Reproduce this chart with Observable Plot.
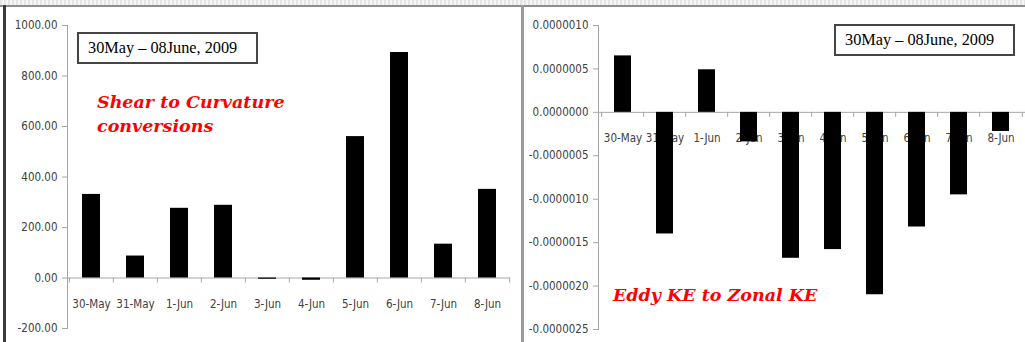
<!DOCTYPE html>
<html>
<head>
<meta charset="utf-8">
<script src="https://cdn.jsdelivr.net/npm/d3@7"></script>
<script src="https://cdn.jsdelivr.net/npm/@observablehq/plot@0.6"></script>
<style>
  html, body { margin: 0; padding: 0; background: #fff; }
  #root { position: relative; width: 1025px; height: 342px; overflow: hidden; background: #fff; }
  .panel { position: absolute; top: 0; }
  .box { position: absolute; box-sizing: border-box; border: 2px solid #454545; background: #fff;
         font-family: "Liberation Serif", serif; font-size: 16.3px; color: #000; padding-left: 9px; line-height: 28px; }
  .note { position: absolute; font-family: "DejaVu Serif", serif; font-style: italic; font-weight: bold;
          color: #ff0000; font-size: 17.5px; line-height: 24px; white-space: nowrap; }
  .deco { position: absolute; }
</style>
</head>
<body>
<div id="root"></div>
<script>
// ---- data ----
const categories = ["30-May", "31-May", "1-Jun", "2-Jun", "3-Jun", "4-Jun", "5-Jun", "6-Jun", "7-Jun", "8-Jun"];
const shearToCurvature = [331, 87, 276, 288, -5, -9, 560, 893, 134, 351];
const eddyToZonal = [6.5e-7, -1.40e-6, 4.9e-7, -3.4e-7, -1.68e-6, -1.58e-6, -2.10e-6, -1.32e-6, -0.95e-6, -0.22e-6];
const leftTicks = [-200, 0, 200, 400, 600, 800, 1000];
const rightTicks = [-2.5e-6, -2.0e-6, -1.5e-6, -1.0e-6, -0.5e-6, 0, 0.5e-6, 1.0e-6];
const periodLabel = "30May – 08June, 2009";
const leftNote = ["Shear to Curvature", "conversions"];
const rightNote = "Eddy KE to Zonal KE";

const axisFont = '"Liberation Sans Narrow", "Arial Narrow", "DejaVu Sans Condensed", sans-serif';
const textColor = "#404040";
const lineColor = "#a6a6a6";

function panel({values, ticks, fmt, domain, width, marginLeft, marginRight, marginTop, marginBottom}) {
  const data = categories.map((c, i) => ({cat: c, v: values[i]}));
  const band = (width - marginLeft - marginRight) / categories.length;
  return Plot.plot({
    width, height: 342, marginLeft, marginRight, marginTop, marginBottom,
    style: {fontFamily: axisFont, fontSize: "11.5px", color: textColor, background: "transparent", overflow: "visible"},
    x: {type: "band", domain: categories, paddingInner: 0.6, paddingOuter: 0.3, axis: null},
    y: {domain, axis: null},
    marks: [
      Plot.frame({anchor: "left", stroke: lineColor}),
      Plot.axisY({ticks, tickFormat: fmt, label: null, tickSize: 5, tickPadding: 5, stroke: lineColor, fill: textColor, fontSize: 11.5}),
      Plot.ruleY([0], {stroke: lineColor}),
      Plot.ruleX(categories, {x: d => d, y1: 0, y2: 0, dx: -band / 2, insetBottom: -5, stroke: lineColor}),
      Plot.ruleX(categories.slice(-1), {x: d => d, y1: 0, y2: 0, dx: band / 2, insetBottom: -5, stroke: lineColor}),
      Plot.text(data, {x: "cat", y: () => 0, text: "cat", dy: 26, fill: textColor, fontSize: 11.5}),
      Plot.barY(data, {x: "cat", y: "v", fill: "#000"})
    ]
  });
}

const root = document.getElementById("root");

function deco(style) {
  const d = document.createElement("div");
  d.className = "deco";
  Object.assign(d.style, style);
  root.appendChild(d);
}

const left = panel({
  values: shearToCurvature, ticks: leftTicks, fmt: d => d.toFixed(2), domain: [-200, 1000],
  width: 520, marginLeft: 67, marginRight: 10, marginTop: 25, marginBottom: 14
});
left.classList.add("panel");
left.style.left = "0px";
root.appendChild(left);

const right = panel({
  values: eddyToZonal, ticks: rightTicks, fmt: d => d.toFixed(7), domain: [-2.5e-6, 1e-6],
  width: 502, marginLeft: 75, marginRight: 0, marginTop: 25, marginBottom: 13
});
right.classList.add("panel");
right.style.left = "523px";
root.appendChild(right);

// frame decorations
deco({left: "0px", top: "0px", width: "1025px", height: "5px", background: "repeating-linear-gradient(90deg, #e4e4e4 0 2px, #f6f6f6 2px 4px)"});
deco({left: "0px", top: "5px", width: "1025px", height: "2px", background: "#8f8f8f"});
deco({left: "3px", top: "5px", width: "3px", height: "337px", background: "#3a3a3a"});
deco({left: "521px", top: "5px", width: "3px", height: "337px", background: "#9a9a9a"});

// annotations
function box(x, y) {
  const b = document.createElement("div");
  b.className = "box";
  Object.assign(b.style, {left: x + "px", top: y + "px", width: "181px", height: "32px"});
  b.textContent = periodLabel;
  root.appendChild(b);
}
box(77, 32);
box(834, 24);

const n1 = document.createElement("div");
n1.className = "note";
Object.assign(n1.style, {left: "97px", top: "90px"});
n1.innerHTML = leftNote.join("<br>");
root.appendChild(n1);

const n2 = document.createElement("div");
n2.className = "note";
Object.assign(n2.style, {left: "613px", top: "283px"});
n2.textContent = rightNote;
root.appendChild(n2);
</script>
</body>
</html>
